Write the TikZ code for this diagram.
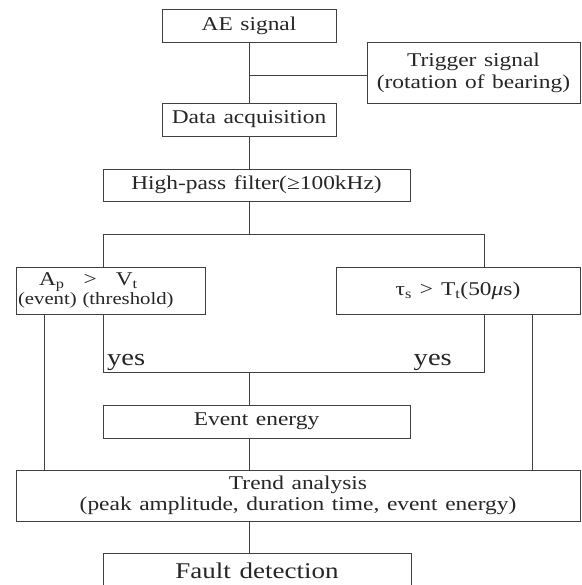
\documentclass[tikz,border=0pt]{standalone}
\usepackage{fontspec}
\setmainfont[FakeStretch=1.2,WordSpace=1.3]{Liberation Serif}
\begin{document}
\begin{tikzpicture}[x=1pt,y=-1pt,
  box/.style={draw=black!75, line width=0.9pt, inner xsep=2pt, inner ysep=0pt,
    text=black!85, font=\fontsize{19.5}{21}\selectfont, align=center},
  ln/.style={draw=black!75, line width=0.9pt},
  yeslbl/.style={inner sep=0pt, text=black!85, font=\fontsize{23.8}{24}\selectfont}]
\clip (0,0) rectangle (581,585);
\fill[white] (0,0) rectangle (581,585);
% nodes
\node[box, minimum width=174pt, minimum height=33pt] (ae) at (249,25.5) {AE signal};
\node[box, minimum width=213pt, minimum height=61pt, font=\fontsize{19.5}{22}\selectfont] (trig) at (473.5,72.5) {Trigger signal\\(rotation of bearing)};
\node[box, minimum width=174pt, minimum height=33pt] (dq) at (249,119.5) {Data acquisition};
\node[box, minimum width=307pt, minimum height=32pt] (hp) at (256.5,185) {High-pass filter(≥100kHz)};
\node[box, minimum width=189pt, minimum height=47pt, text width=185pt, align=left,
  font=\fontsize{17.3}{19}\selectfont] (ap) at (110.5,290.5)
  {{\fontsize{19.5}{19}\selectfont\hspace*{21pt}A\textsubscript{p}\hspace{19pt}>\hspace{19pt}V\textsubscript{t}}\\(event) (threshold)};
\node[box, minimum width=244pt, minimum height=47pt] (tau) at (458,290.5)
  {τ\textsubscript{s}\hspace{8pt}>\hspace{8pt}T\textsubscript{t}(50\textit{μ}s)};
\node[box, minimum width=307pt, minimum height=33pt] (ev) at (256.5,421.5) {Event energy};
\node[box, minimum width=564pt, minimum height=51pt, font=\fontsize{19.5}{21}\selectfont] (tr) at (298,495.5)
  {Trend analysis\\(peak amplitude, duration time, event energy)};
\node[box, minimum width=308pt, minimum height=36pt, font=\fontsize{22.5}{24}\selectfont] (fd) at (257,571) {Fault detection};
\node[yeslbl, anchor=base west] (yes1) at (107,365) {yes};
\node[yeslbl, anchor=base east] (yes2) at (452,365) {yes};
% coordinates
\coordinate (tj) at (249,75);
\coordinate (bl) at (103,234);
\coordinate (br) at (484,234);
\coordinate (yl) at (103,372);
\coordinate (yr) at (484,372);
\coordinate (ol) at (44,300);
\coordinate (or) at (532,300);
% connectors
\draw[ln] (ae.south) -- (dq.north);
\draw[ln] (tj) -- (trig.west |- tj);
\draw[ln] (dq.south) -- (dq.south |- hp.north);
\draw[ln] (dq.south |- hp.south) -- (dq.south |- bl);
\draw[ln] (ap.north -| bl) -- (bl) -- (br) -- (tau.north -| br);
\draw[ln] (ap.south -| yl) -- (yl) -- (yr) -- (tau.south -| yr);
\draw[ln] (dq.south |- yl) -- (dq.south |- ev.north);
\draw[ln] (dq.south |- ev.south) -- (dq.south |- tr.north);
\draw[ln] (dq.south |- tr.south) -- (dq.south |- fd.north);
\draw[ln] (ap.south -| ol) -- (tr.north -| ol);
\draw[ln] (tau.south -| or) -- (tr.north -| or);
\end{tikzpicture}
\end{document}
